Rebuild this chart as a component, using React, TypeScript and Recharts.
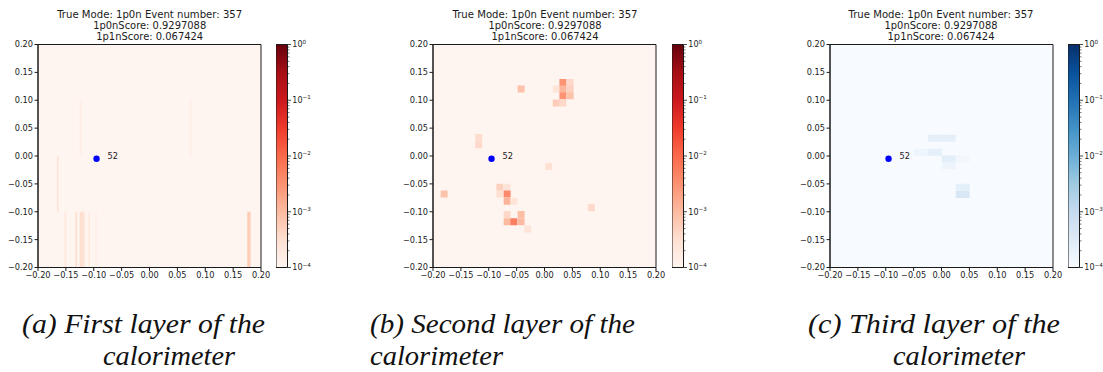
import React from 'react';
import { ScatterChart, Scatter, XAxis, YAxis, ReferenceArea, CartesianGrid } from 'recharts';

// ---------- data ----------
const AXIS_TICKS = [-0.2, -0.15, -0.1, -0.05, 0, 0.05, 0.1, 0.15, 0.2];
const CB_MAJOR = [1e-4, 1e-3, 1e-2, 1e-1, 1];
const CB_MINOR_MULT = [2, 3, 4, 5, 6, 7, 8, 9];
const CB_TICKS: number[] = [...CB_MAJOR];
for (let e = -4; e < 0; e++) for (const k of CB_MINOR_MULT) CB_TICKS.push(k * Math.pow(10, e));

const TITLE_LINES = ['True Mode: 1p0n Event number: 357', '1p0nScore: 0.9297088', '1p1nScore: 0.067424'];
const MARKER = [{ x: -0.095, y: -0.005, label: '52' }];

// Layer 1 (fine strips)
const L1_W = 0.003125;
const L1_H = 0.1;
const L1_X = [-0.1645, -0.1237, 0.074, -0.151, -0.1315, -0.1237, -0.1206, -0.1175, -0.108, -0.0955, 0.177, 0.1801];
const L1_Y = [-0.05, 0.05, 0.05, -0.15, -0.15, -0.15, -0.15, -0.15, -0.15, -0.15, -0.15, -0.15];
const L1_V = [2.4e-4, 1.5e-4, 1.5e-4, 2.0e-4, 3.2e-4, 3.5e-4, 3.5e-4, 2.5e-4, 1.8e-4, 1.4e-4, 6.5e-4, 5e-4];

// Layer 2
const L2_W = 0.0125;
const L2_H = 0.0125;
const L2_X = [0.033, 0.046, 0.021, 0.033, 0.046, 0.033, 0.046, 0.021, 0.033, -0.042, -0.118, -0.118, 0.0075, -0.18,
  -0.08, -0.067, -0.08, -0.067, -0.067, -0.055, -0.067, -0.042, -0.067, -0.055, -0.042, -0.03, 0.084];
const L2_Y = [0.132, 0.132, 0.12, 0.12, 0.12, 0.108, 0.108, 0.095, 0.095, 0.12, 0.033, 0.02, -0.019, -0.068,
  -0.056, -0.056, -0.068, -0.068, -0.081, -0.081, -0.105, -0.105, -0.118, -0.118, -0.118, -0.131, -0.093];
const L2_V = [3e-3, 4e-4, 2.5e-4, 1.2e-3, 5e-4, 3e-3, 8e-4, 6e-4, 4e-4, 8e-4, 3.5e-4, 4e-4, 3e-4, 8e-4,
  5e-4, 2.5e-4, 3e-4, 4e-3, 1.2e-3, 2.5e-4, 4e-4, 9e-4, 1.0e-3, 5.5e-3, 1.0e-3, 2.5e-4, 4e-4];

// Layer 3
const L3_W = 0.025;
const L3_H = 0.0125;
const L3_X = [-0.012, 0.013, -0.037, -0.012, 0.013, 0.038, 0.013, 0.038, 0.038];
const L3_Y = [0.032, 0.032, 0.0068, 0.0068, -0.0055, -0.0055, -0.0175, -0.056, -0.069];
const L3_V = [2.3e-4, 2.3e-4, 1.5e-4, 2.4e-4, 2.6e-4, 1.3e-4, 1.6e-4, 2.3e-4, 4.3e-4];

const CAPTIONS = [
  ['(a) First layer of the', 'calorimeter'],
  ['(b) Second layer of the', 'calorimeter'],
  ['(c) Third layer of the', 'calorimeter'],
];

// ---------- styles ----------
const REDS = ['#fff5f0', '#fee0d2', '#fcbba1', '#fc9272', '#fb6a4a', '#ef3b2c', '#cb181d', '#a50f15', '#67000d'];
const BLUES = ['#f7fbff', '#deebf7', '#c6dbef', '#9ecae1', '#6baed6', '#4292c6', '#2171b5', '#08519c', '#08306b'];
const FONT = 'DejaVu Sans, sans-serif';
const INK = '#1a1a1a';
const TICK_FS = 8.2;

const hex = (c: string) => [1, 3, 5].map((i) => parseInt(c.slice(i, i + 2), 16));
const colorAt = (stops: string[], v: number) => {
  let t = (Math.log10(v) + 4) / 4;
  t = Math.max(0, Math.min(1, t));
  const pos = t * (stops.length - 1);
  const i = Math.min(stops.length - 2, Math.floor(pos));
  const f = pos - i;
  const a = hex(stops[i]);
  const b = hex(stops[i + 1]);
  const c = a.map((av, k) => Math.round(av + (b[k] - av) * f));
  return `rgb(${c[0]},${c[1]},${c[2]})`;
};

const fmt = (v: number) => {
  const s = Math.abs(v).toFixed(2);
  return v < -1e-9 ? '\u2212' + s : s;
};

const MarkerShape = (p: any) => (
  <g>
    <circle cx={p.cx} cy={p.cy} r={3.2} fill="#0000ff" />
    <text x={p.cx + 11} y={p.cy + 0.3} fontSize={TICK_FS} fontFamily={FONT} fill={INK}>
      {p.payload.label}
    </text>
  </g>
);

const PLOT_TOP = 44.5;
const PLOT = 223;
const YW = 38;
const RM = 16;

type PanelProps = { left: number; xs: number[]; ys: number[]; vs: number[]; w: number; h: number; stops: string[] };

const Panel = ({ left, xs, ys, vs, w, h, stops }: PanelProps) => (
  <div style={{ position: 'absolute', left: left - YW, top: 0 }}>
    <ScatterChart width={YW + PLOT + RM} height={300} margin={{ top: PLOT_TOP, right: RM, bottom: 300 - PLOT_TOP - PLOT - 30, left: 0 }}>
      <CartesianGrid fill={stops[0]} stroke="none" horizontal={false} vertical={false} />
      <XAxis
        dataKey="x"
        type="number"
        domain={[-0.2, 0.2]}
        ticks={AXIS_TICKS}
        interval={0}
        tickFormatter={fmt}
        height={30}
        tickSize={3.5}
        tickMargin={1.2}
        allowDataOverflow
        tick={{ fontSize: TICK_FS, fill: INK, fontFamily: FONT }}
        axisLine={{ stroke: INK }}
        tickLine={{ stroke: INK }}
      />
      <YAxis
        dataKey="y"
        type="number"
        domain={[-0.2, 0.2]}
        ticks={AXIS_TICKS}
        interval={0}
        tickFormatter={fmt}
        width={YW}
        tickSize={3.5}
        tickMargin={1.5}
        allowDataOverflow
        tick={{ fontSize: TICK_FS, fill: INK, fontFamily: FONT }}
        axisLine={{ stroke: INK }}
        tickLine={{ stroke: INK }}
      />
      {xs.map((x, i) => (
        <ReferenceArea
          key={i}
          x1={x - w / 2}
          x2={x + w / 2}
          y1={ys[i] - h / 2}
          y2={ys[i] + h / 2}
          fill={colorAt(stops, vs[i])}
          fillOpacity={1}
          stroke="none"
          ifOverflow="hidden"
        />
      ))}
      <ReferenceArea x1={-0.2} x2={0.2} y1={-0.2} y2={0.2} fill="none" fillOpacity={0} stroke={INK} strokeWidth={1} />
      <Scatter data={MARKER} isAnimationActive={false} shape={MarkerShape} />
    </ScatterChart>
  </div>
);

const CbTick = (p: any) => {
  const v = p.payload.value;
  const lg = Math.log10(v);
  const exp = Math.round(lg);
  const major = Math.abs(lg - exp) < 1e-6;
  return (
    <g>
      <line x1={p.x} x2={p.x + (major ? 3.5 : 2)} y1={p.y} y2={p.y} stroke={INK} strokeWidth={major ? 0.8 : 0.6} />
      {major && (
        <text x={p.x + 4.8} y={p.y} dy="0.36em" fontSize={8} fontFamily={FONT} fill={INK}>
          10
          <tspan dy={-3.8} fontSize={5.6}>
            {exp === 0 ? '0' : '\u2212' + Math.abs(exp)}
          </tspan>
        </text>
      )}
    </g>
  );
};

const Colorbar = ({ left, stops, id }: { left: number; stops: string[]; id: string }) => (
  <div style={{ position: 'absolute', left, top: 0 }}>
    <ScatterChart width={11.5 + 30} height={300} margin={{ top: PLOT_TOP, right: 0, bottom: 300 - PLOT_TOP - PLOT, left: 0 }}>
      <defs>
        <linearGradient id={id} x1="0" y1="1" x2="0" y2="0">
          {stops.map((c, i) => (
            <stop key={i} offset={i / (stops.length - 1)} stopColor={c} />
          ))}
        </linearGradient>
      </defs>
      <XAxis type="number" dataKey="x" domain={[0, 1]} hide allowDataOverflow />
      <YAxis
        type="number"
        dataKey="y"
        orientation="right"
        scale="log"
        domain={[1e-4, 1]}
        ticks={CB_TICKS}
        interval={0}
        width={30}
        tickSize={0}
        tickMargin={0}
        tickLine={false}
        axisLine={false}
        allowDataOverflow
        tick={<CbTick />}
      />
      <ReferenceArea x1={0} x2={1} y1={1e-4} y2={1} fill={`url(#${id})`} fillOpacity={1} stroke={INK} strokeWidth={1} />
    </ScatterChart>
  </div>
);

const TITLE_CENTERS = [149.7, 545, 941];
const TITLE_WIDTHS = [185, 113, 107];
const CAP_POS = [
  { x1: 22, w1: 243, x2: 103, w2: 132 },
  { x1: 370, w1: 265, x2: 370, w2: 133 },
  { x1: 808, w1: 252, x2: 893, w2: 132 },
];

export default function App() {
  return (
    <div style={{ position: 'fixed', left: 0, top: 0, width: 1103, height: 372, overflow: 'hidden', background: '#fff' }}>
      <Panel left={38.3} xs={L1_X} ys={L1_Y} vs={L1_V} w={L1_W} h={L1_H} stops={REDS} />
      <Panel left={433.3} xs={L2_X} ys={L2_Y} vs={L2_V} w={L2_W} h={L2_H} stops={REDS} />
      <Panel left={830} xs={L3_X} ys={L3_Y} vs={L3_V} w={L3_W} h={L3_H} stops={BLUES} />
      <Colorbar left={276} stops={REDS} id="cbR1" />
      <Colorbar left={671.5} stops={REDS} id="cbR2" />
      <Colorbar left={1067.5} stops={BLUES} id="cbB3" />
      <svg width={1103} height={372} style={{ position: 'absolute', left: 0, top: 0, pointerEvents: 'none' }}>
        {TITLE_CENTERS.map((cx, k) =>
          TITLE_LINES.map((t, i) => (
            <text
              key={k + '-' + i}
              x={cx - TITLE_WIDTHS[i] / 2}
              y={17.7 + i * 11}
              textLength={TITLE_WIDTHS[i]}
              lengthAdjust="spacingAndGlyphs"
              fontSize={10}
              fontFamily={FONT}
              fill={INK}
            >
              {t}
            </text>
          ))
        )}
        {CAPTIONS.map((c, k) => (
          <g key={k} fontFamily="'Liberation Serif', serif" fontStyle="italic" fontSize={27} fill="#111">
            <text x={CAP_POS[k].x1} y={333} textLength={CAP_POS[k].w1} lengthAdjust="spacingAndGlyphs">
              {c[0]}
            </text>
            <text x={CAP_POS[k].x2} y={365} textLength={CAP_POS[k].w2} lengthAdjust="spacingAndGlyphs">
              {c[1]}
            </text>
          </g>
        ))}
      </svg>
    </div>
  );
}
